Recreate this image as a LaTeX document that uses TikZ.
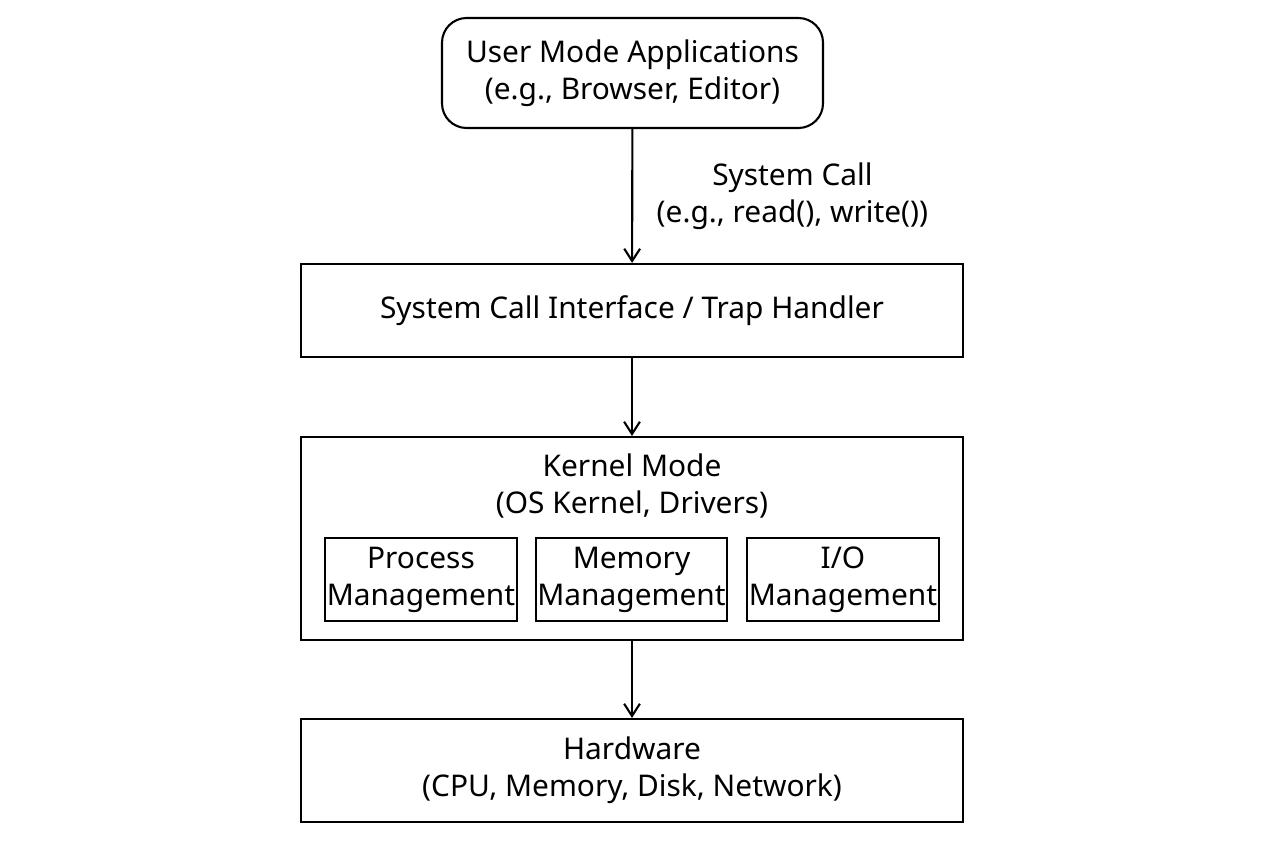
\documentclass[tikz,border=0pt]{standalone}
\usepackage{fontspec}
\setmainfont{Noto Sans}
\usetikzlibrary{arrows.meta}
\begin{document}
\begin{tikzpicture}[x=0.02cm,y=-0.02cm,
  box/.style={draw,line width=1.2pt,align=center,font=\fontsize{17}{21}\selectfont,inner sep=0pt},
  arr/.style={-{Straight Barb[length=7pt,width=9pt]},line width=1.2pt}]
\useasboundingbox (0,0) rectangle (1264,848);
\node[box,rounded corners=14pt,minimum width=381*0.02cm,minimum height=110*0.02cm] (user) at (632.5,73) {User Mode Applications\\(e.g., Browser, Editor)};
\node[box,minimum width=662*0.02cm,minimum height=93*0.02cm] (sci) at (632,310.5) {System Call Interface / Trap Handler};
\node[box,minimum width=662*0.02cm,minimum height=203*0.02cm] (kern) at (632,538.5) {};
\node[align=center,font=\fontsize{17}{21}\selectfont] (kt) at (632,486) {Kernel Mode\\(OS Kernel, Drivers)};
\node[box,minimum width=192*0.02cm,minimum height=83*0.02cm] (pm) at (421,579.5) {Process\\Management};
\node[box,minimum width=191*0.02cm,minimum height=83*0.02cm] (mm) at (631.5,579.5) {Memory\\Management};
\node[box,minimum width=192*0.02cm,minimum height=83*0.02cm] (io) at (843,579.5) {I/O\\Management};
\node[box,minimum width=662*0.02cm,minimum height=103*0.02cm] (hw) at (632,770.5) {Hardware\\(CPU, Memory, Disk, Network)};
\draw[arr] (user) -- (sci) node[midway,right=10pt,align=center,font=\fontsize{17}{21}\selectfont] (lbl) {System Call\\(e.g., read(), write())};
\draw[arr] (sci) -- (kern);
\draw[arr] (kern) -- (hw);
\end{tikzpicture}
\end{document}
